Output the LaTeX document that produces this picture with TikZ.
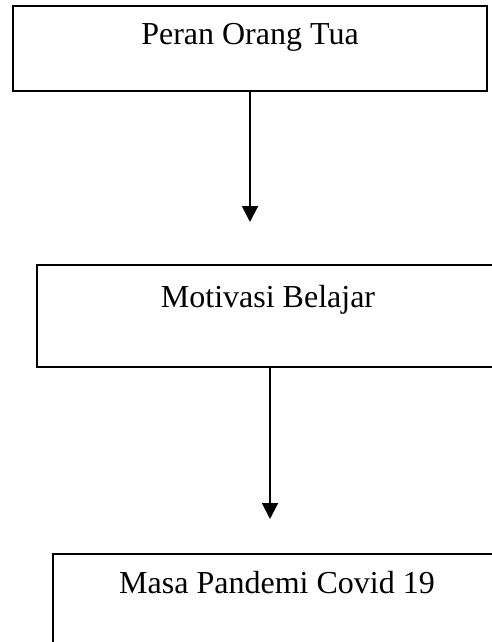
\documentclass[tikz,border=0pt]{standalone}
\usepackage{fontspec}
\setmainfont{Liberation Serif}
\usetikzlibrary{arrows.meta}
\begin{document}
\begin{tikzpicture}[x=1pt,y=-1pt,
  box/.style={draw=black,line width=1.8pt,rectangle,inner sep=0pt,anchor=north west},
  lbl/.style={anchor=base,inner sep=0pt,font=\fontsize{32}{38}\selectfont},
  arr/.style={line width=2pt,-{Triangle[width=16pt,length=16pt]}}]
\useasboundingbox (0,0) rectangle (492,642);
\clip (0,0) rectangle (492,642);
\node[box,minimum width=474pt,minimum height=85pt] (b1) at (12,5) {};
\node[box,minimum width=470pt,minimum height=102pt] (b2) at (36,264) {};
\node[box,minimum width=460pt,minimum height=120pt] (b3) at (52,553) {};
\node[lbl] (t1) at (250,45) {Peran Orang Tua};
\node[lbl] (t2) at (268,307) {Motivasi Belajar};
\node[lbl] (t3) at (277,593) {Masa Pandemi Covid 19};
\coordinate (e1) at (250,222);
\coordinate (e2) at (270,519);
\draw[arr] (b1.south -| e1) -- (e1);
\draw[arr] (b2.south -| e2) -- (e2);
\end{tikzpicture}
\end{document}
